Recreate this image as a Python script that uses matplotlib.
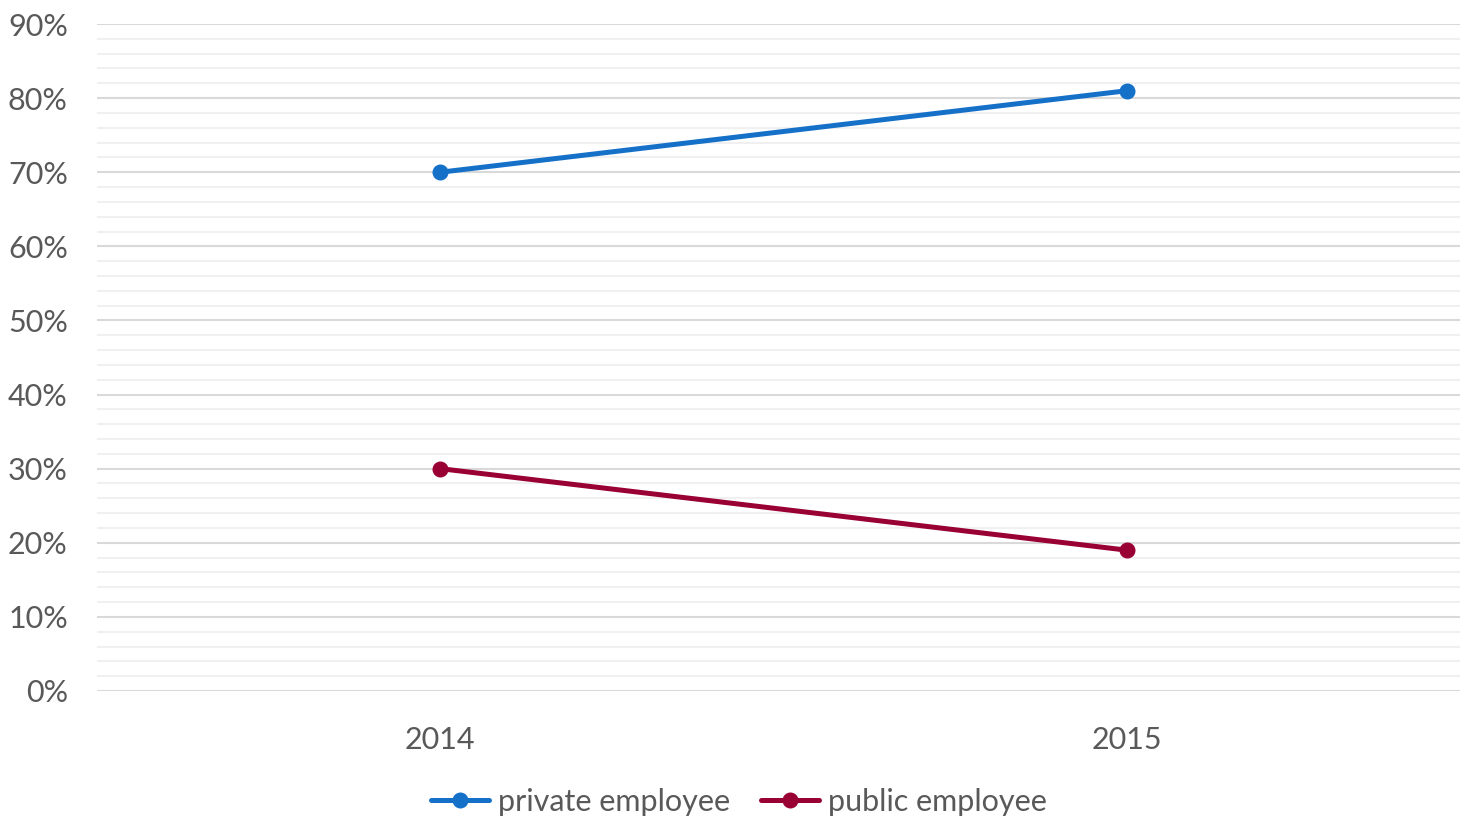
import matplotlib.pyplot as plt
from matplotlib.ticker import MultipleLocator, PercentFormatter

plt.rcParams['font.family'] = ['Lato', 'DejaVu Sans']

# data
years = ['2014', '2015']
private_employee = [70, 81]
public_employee = [30, 19]

fig = plt.figure(figsize=(14.6, 8.17), dpi=100)
ax = fig.add_axes([97 / 1460, 126 / 817, 1373.5 / 1460, 667 / 817])

x = range(len(years))
ax.plot(x, private_employee, color='#1570C8', lw=3.6, marker='o', ms=10.5,
        label='private employee', solid_capstyle='round')
ax.plot(x, public_employee, color='#990033', lw=3.6, marker='o', ms=10.5,
        label='public employee', solid_capstyle='round')

ax.set_xlim(-0.5, 1.5)
ax.set_ylim(0, 90)
ax.set_xticks(list(x))
ax.set_xticklabels(years)
ax.yaxis.set_major_locator(MultipleLocator(10))
ax.yaxis.set_minor_locator(MultipleLocator(2))
ax.yaxis.set_major_formatter(PercentFormatter(decimals=0))

# gridlines
ax.grid(which='major', axis='y', color='#D9D9D9', lw=1.5)
ax.grid(which='minor', axis='y', color='#F0F0F0', lw=1.5)
ax.set_axisbelow(True)

for s in ax.spines.values():
    s.set_visible(False)
ax.tick_params(which='both', length=0)
ax.tick_params(axis='y', labelsize=22, labelcolor='#595959', pad=21)
ax.tick_params(axis='x', labelsize=22, labelcolor='#595959', pad=25)

leg = fig.legend(loc='center', bbox_to_anchor=(0.506, 1 - 802 / 817), ncol=2,
                 frameon=False, fontsize=22, handlelength=1.9, columnspacing=1.0,
                 handletextpad=0.3)
for t in leg.get_texts():
    t.set_color('#595959')

fig.savefig('out.png', dpi=100)
